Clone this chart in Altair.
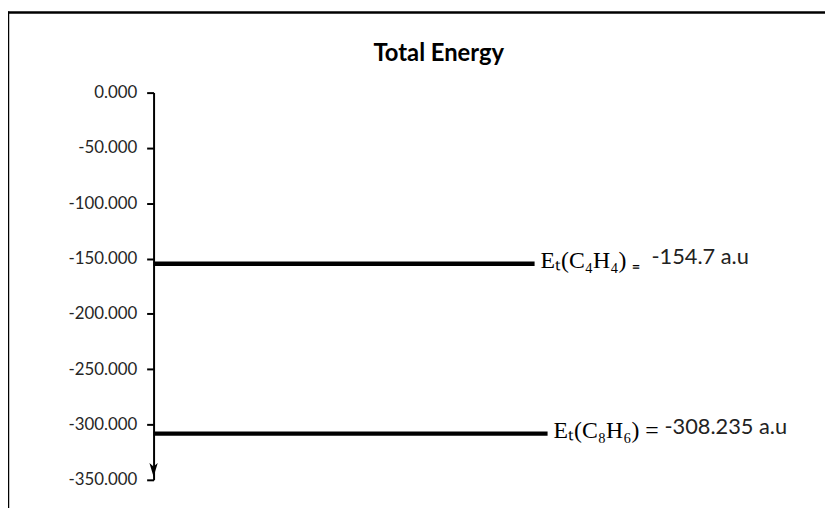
import altair as alt
import pandas as pd

# ---- data ----
formula_labels = ["Eₜ(C₄H₄) ₌", "Eₜ(C₈H₆) ="]
value_labels = ["-154.7 a.u", "-308.235 a.u"]
energy = [-154.7, -308.235]
level_start = [0, 0]
level_end = [67.5, 69.8]
y_ticks = [0, -50, -100, -150, -200, -250, -300, -350]
chart_title = "Total Energy"

df = pd.DataFrame({
    "formula": formula_labels,
    "value": value_labels,
    "energy": energy,
    "start": level_start,
    "end": level_end,
})

W, H = 570, 391

x_scale = alt.Scale(domain=[0, 100])
y_scale = alt.Scale(domain=[-350, 0], nice=False, zero=False)

base = alt.Chart(df)

levels = base.mark_rule(strokeWidth=4.5, color="black").encode(
    x=alt.X("start:Q", scale=x_scale, axis=None),
    x2="end:Q",
    y=alt.Y(
        "energy:Q",
        scale=y_scale,
        axis=alt.Axis(
            values=y_ticks,
            labelExpr="replace(format(datum.value, '.3f'), '\u2212', '-')",
            title=None,
            grid=False,
            domainColor="black",
            domainWidth=2,
            tickColor="black",
            tickWidth=2,
            tickSize=7,
            labelPadding=10,
            labelFont="Lato",
            labelFontSize=17,
            labelColor="#262626",
        ),
    ),
)

formula_text = base.mark_text(
    align="left", baseline="alphabetic", dx=6, dy=4,
    font="Liberation Serif", fontSize=24, color="black",
).encode(x=alt.X("end:Q", scale=x_scale), y=alt.Y("energy:Q", scale=y_scale), text="formula:N")

value_text = base.mark_text(
    align="left", baseline="alphabetic", dx=118, dy=0,
    font="Lato", fontSize=22, color="#222222",
).encode(x=alt.X("end:Q", scale=x_scale), y=alt.Y("energy:Q", scale=y_scale), text="value:N")

deco = alt.Chart(pd.DataFrame({"title": [chart_title]}))

title_text = deco.mark_text(
    align="center", baseline="alphabetic", font="Lato", fontSize=24,
    fontWeight="bold", color="black",
).encode(x=alt.value(W / 2 + 3), y=alt.value(-32), text="title:N")

arrow = deco.mark_point(
    shape="M0,1 L-0.6,-1 L0,-0.5 L0.6,-1 Z",
    filled=True, size=196, color="black", opacity=1,
).encode(x=alt.value(0), y=alt.value(H - 10))

frame_top = deco.mark_rule(strokeWidth=2.5, color="black").encode(
    x=alt.value(-147), x2=alt.value(W + 120), y=alt.value(-81)
)
frame_left = deco.mark_rule(strokeWidth=2.5, color="black").encode(
    x=alt.value(-147), y=alt.value(-82), y2=alt.value(H + 40)
)

chart = alt.layer(
    frame_top, frame_left, levels, formula_text, value_text, title_text, arrow
).properties(
    width=W,
    height=H,
    background="white",
    padding={"left": 147, "top": 83, "right": 108, "bottom": 26},
    autosize=alt.AutoSizeParams(type="none"),
).configure_view(strokeWidth=0)

chart.save("out.html", embed_options={"renderer": "svg", "actions": False})
